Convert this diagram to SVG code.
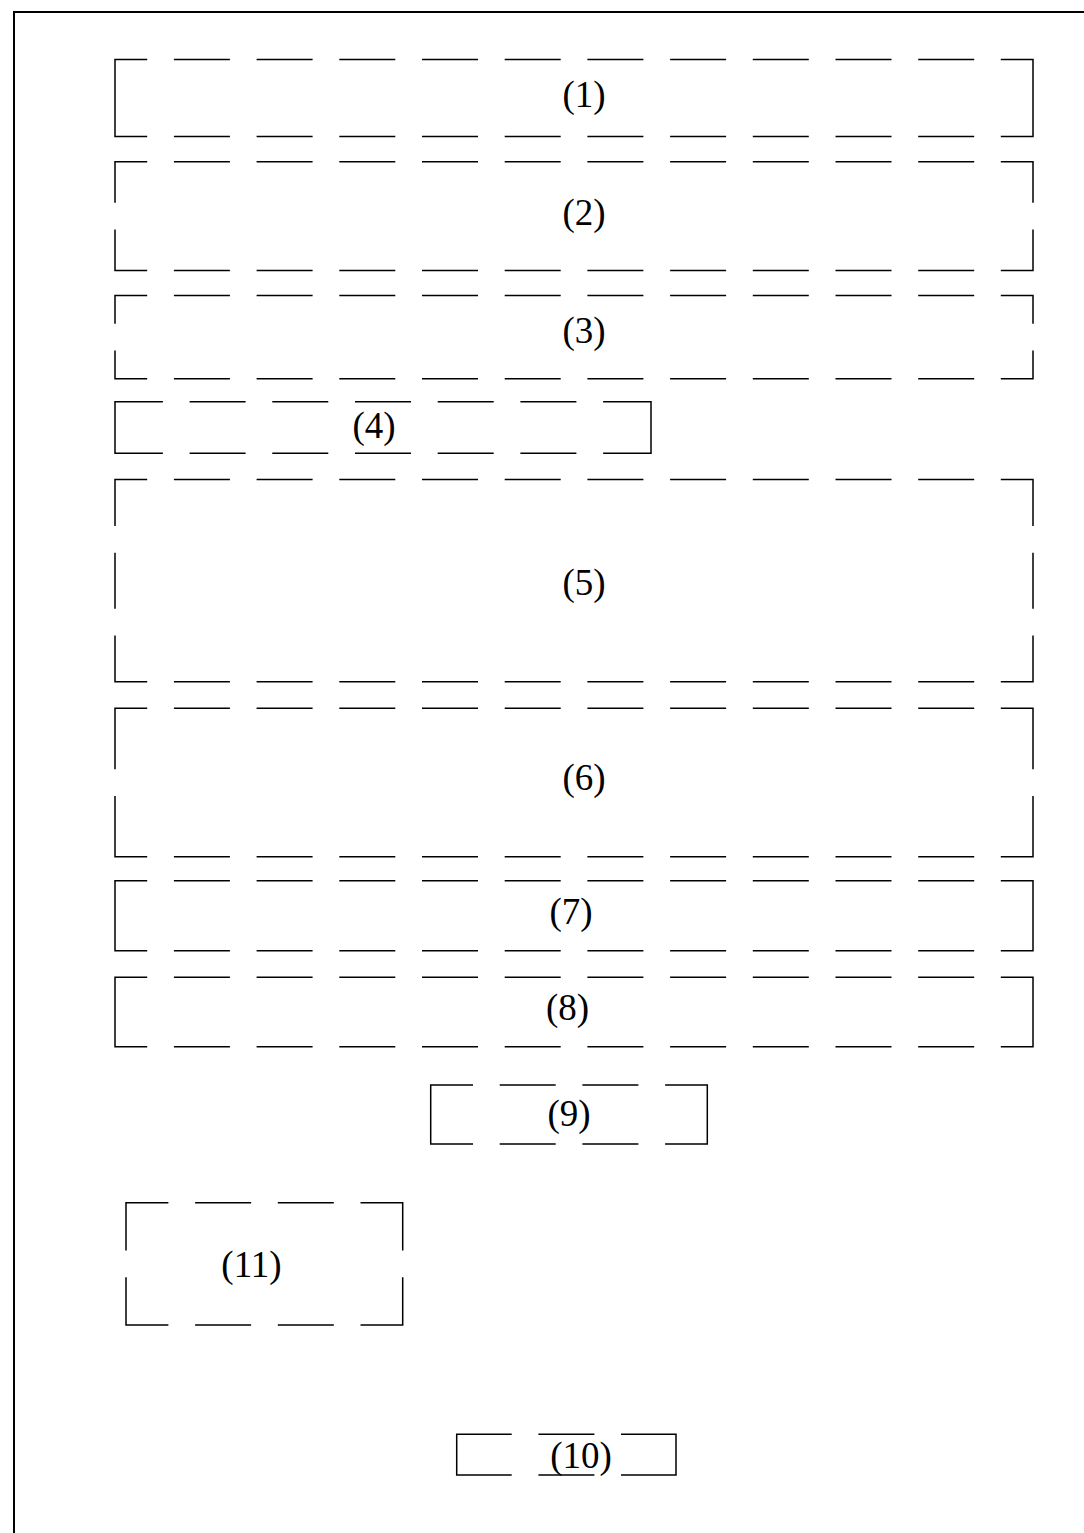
<svg xmlns="http://www.w3.org/2000/svg" xmlns:xlink="http://www.w3.org/1999/xlink" width="1084" height="1533" viewBox="0 0 1084 1533">
<style>
.b{fill:none;stroke:#000;stroke-width:1.5}
.f{fill:none;stroke:#000;stroke-width:2}
.t{font-family:"Liberation Serif","Times New Roman",serif;font-size:37px;fill:#000;text-anchor:middle}
</style>
<defs>
<path id="hd" class="b" d="M173.9 0H229.9M256.6 0H312.6M339.3 0H395.3M422 0H478M504.7 0H560.7M587.4 0H643.4M670.1 0H726.1M752.8 0H808.8M835.5 0H891.5M918.2 0H974.2"/>
<path id="hd4" class="b" d="M189.6 0H245.6M272.3 0H328.3M355 0H411M437.7 0H493.7M520.4 0H576.4"/>
</defs>
<rect width="1084" height="1533" fill="#fff"/>
<path class="f" d="M14 1533V12H1084"/>
<g id="connectors"/>
<g id="n1">
<path class="b" d="M147.2 59.5H115V136.5H147.2M1000.8 59.5H1033V136.5H1000.8"/>
<use xlink:href="#hd" y="59.5"/><use xlink:href="#hd" y="136.5"/>
<text class="t" x="584" y="107">(1)</text>
</g>
<g id="n2">
<path class="b" d="M147.2 161.7H115V202.8M115 229.4V270.5H147.2M1000.8 161.7H1033V202.8M1033 229.4V270.5H1000.8"/>
<use xlink:href="#hd" y="161.7"/><use xlink:href="#hd" y="270.5"/>
<text class="t" x="584" y="225">(2)</text>
</g>
<g id="n3">
<path class="b" d="M147.2 295.5H115V323.8M115 350.5V378.8H147.2M1000.8 295.5H1033V323.8M1033 350.5V378.8H1000.8"/>
<use xlink:href="#hd" y="295.5"/><use xlink:href="#hd" y="378.8"/>
<text class="t" x="584" y="343">(3)</text>
</g>
<g id="n4">
<path class="b" d="M162.9 401.7H115V453.3H162.9M603.1 401.7H651V453.3H603.1"/>
<use xlink:href="#hd4" y="401.7"/><use xlink:href="#hd4" y="453.3"/>
<text class="t" x="374" y="438">(4)</text>
</g>
<g id="n5">
<path class="b" d="M147.2 479.5H115V526M115 552.7V608.7M115 635.4V681.8H147.2M1000.8 479.5H1033V526M1033 552.7V608.7M1033 635.4V681.8H1000.8"/>
<use xlink:href="#hd" y="479.5"/><use xlink:href="#hd" y="681.8"/>
<text class="t" x="584" y="595">(5)</text>
</g>
<g id="n6">
<path class="b" d="M147.2 708.3H115V769.2M115 795.9V856.7H147.2M1000.8 708.3H1033V769.2M1033 795.9V856.7H1000.8"/>
<use xlink:href="#hd" y="708.3"/><use xlink:href="#hd" y="856.7"/>
<text class="t" x="584" y="790">(6)</text>
</g>
<g id="n7">
<path class="b" d="M147.2 880.7H115V950.7H147.2M1000.8 880.7H1033V950.7H1000.8"/>
<use xlink:href="#hd" y="880.7"/><use xlink:href="#hd" y="950.7"/>
<text class="t" x="571" y="924">(7)</text>
</g>
<g id="n8">
<path class="b" d="M147.2 977.3H115V1046.7H147.2M1000.8 977.3H1033V1046.7H1000.8"/>
<use xlink:href="#hd" y="977.3"/><use xlink:href="#hd" y="1046.7"/>
<text class="t" x="567.5" y="1020">(8)</text>
</g>
<g id="n9">
<path class="b" d="M473 1085H430.7V1144H473M665.1 1085H707.3V1144H665.1M499.7 1085H555.7M582.4 1085H638.4M499.7 1144H555.7M582.4 1144H638.4"/>
<text class="t" x="569" y="1126">(9)</text>
</g>
<g id="n11">
<path class="b" d="M168.4 1202.7H126V1250.5M126 1277.2V1325H168.4M360.5 1202.7H402.7V1250.5M402.7 1277.2V1325H360.5M195.1 1202.7H251.1M277.8 1202.7H333.8M195.1 1325H251.1M277.8 1325H333.8"/>
<text class="t" x="251.5" y="1277">(11)</text>
</g>
<g id="n10">
<path class="b" d="M511.7 1434.3H456.7V1475H511.7M621 1434.3H676V1475H621M538.4 1434.3H594.4M538.4 1475H594.4"/>
<text class="t" x="581" y="1468">(10)</text>
</g>
</svg>
